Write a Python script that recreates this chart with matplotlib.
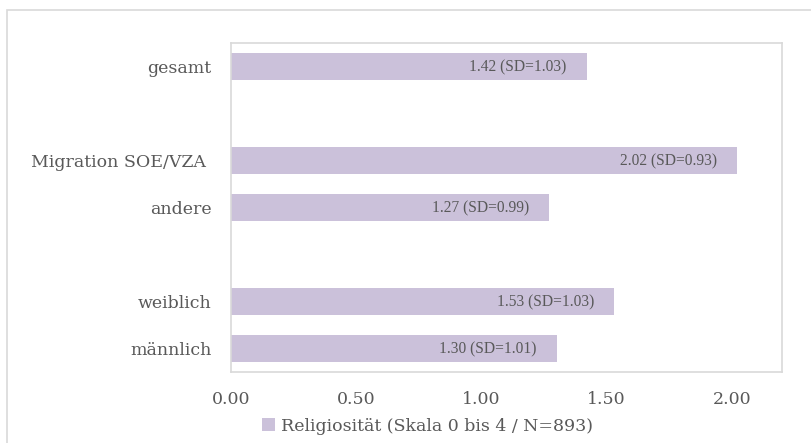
import matplotlib.pyplot as plt
from matplotlib.patches import Rectangle, Patch

categories = ["gesamt", "", "Migration SOE/VZA ", "andere", "", "weiblich", "männlich"]
means = [1.42, None, 2.02, 1.27, None, 1.53, 1.30]
sds = [1.03, None, 0.93, 0.99, None, 1.03, 1.01]
ticks = [0.0, 0.5, 1.0, 1.5, 2.0]
legend_label = "Religiosität (Skala 0 bis 4 / N=893)"

bar_color = "#CBC1DA"
text_color = "#595959"
line_color = "#D9D9D9"

fig = plt.figure(figsize=(8.11, 4.43), dpi=100)
ax = fig.add_axes([231 / 811, 1 - 372 / 443, (782 - 231) / 811, (372 - 43) / 443])

ypos = list(range(len(categories)))
vals = [v if v is not None else 0 for v in means]
ax.barh(ypos, vals, height=0.58, color=bar_color)

for y, m, s in zip(ypos, means, sds):
    if m is None:
        continue
    ax.annotate(f"{m:.2f} (SD={s:.2f})", xy=(m, y), xytext=(-14.5, -0.5),
                textcoords="offset points", ha="right", va="center",
                fontsize=11.2, family="Liberation Serif", color=text_color)

ax.set_xlim(0, 2.2)
ax.set_ylim(len(categories) - 0.5, -0.5)
ax.set_xticks(ticks)
ax.set_xticklabels([f"{t:.2f}" for t in ticks])
ax.set_yticks(ypos)
ax.set_yticklabels(categories)
ax.tick_params(length=0, colors=text_color, labelsize=12.5)
ax.tick_params(axis="y", pad=14)
ax.tick_params(axis="x", pad=14)
for lbl in ax.get_xticklabels() + ax.get_yticklabels():
    lbl.set_family("DejaVu Serif")
for sp in ax.spines.values():
    sp.set_color(line_color)
    sp.set_linewidth(1.2)

handle = Patch(facecolor=bar_color, edgecolor="none")
fig.legend([handle], [legend_label], loc="center", bbox_to_anchor=(0.527, 0.038),
           frameon=False, handlelength=0.75, handleheight=0.75, handletextpad=0.3,
           prop={"family": "DejaVu Serif", "size": 12.5}, labelcolor=text_color)

# outer chart frame (right and bottom edges fall outside the image)
top = 1 - 10 / 443
fig.add_artist(Rectangle((7 / 811, -0.2), 1.2, top + 0.2,
                         transform=fig.transFigure, fill=False,
                         edgecolor=line_color, linewidth=1.2))

fig.savefig("out.png", dpi=100)
